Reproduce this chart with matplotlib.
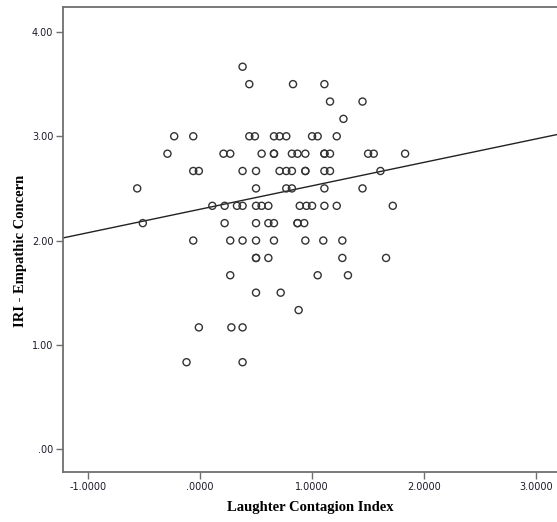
import matplotlib
matplotlib.use("Agg")
import matplotlib.pyplot as plt
import numpy as np

# Data (Laughter Contagion Index, IRI - Empathic Concern)
y_levels = [3.667, 3.5, 3.333, 3.167, 3.0, 2.833, 2.667, 2.5, 2.333, 2.167,
            2.0, 1.833, 1.667, 1.5, 1.333, 1.167, 0.833]
x_by_level = [
    [0.38],
    [0.44, 0.83, 1.11],
    [1.16, 1.45],
    [1.28],
    [-0.23, -0.06, 0.44, 0.49, 0.66, 0.71, 0.77, 1.00, 1.05, 1.22],
    [-0.29, 0.21, 0.27, 0.55, 0.66, 0.66, 0.82, 0.87, 0.94, 1.11, 1.11, 1.16, 1.50, 1.55, 1.83],
    [-0.06, -0.01, 0.38, 0.50, 0.71, 0.77, 0.82, 0.94, 0.94, 1.11, 1.16, 1.61],
    [-0.56, 0.50, 0.77, 0.82, 1.11, 1.45],
    [0.11, 0.22, 0.33, 0.38, 0.50, 0.55, 0.61, 0.89, 0.95, 1.00, 1.11, 1.22, 1.72],
    [-0.51, 0.22, 0.50, 0.61, 0.66, 0.87, 0.87, 0.93],
    [-0.06, 0.27, 0.38, 0.50, 0.66, 0.94, 1.10, 1.27],
    [0.50, 0.50, 0.61, 1.27, 1.66],
    [0.27, 1.05, 1.32],
    [0.50, 0.72],
    [0.88],
    [-0.01, 0.28, 0.38],
    [-0.12, 0.38],
]
fit_intercept = 2.30
fit_slope = 0.225

x_ticks = [-1.0, 0.0, 1.0, 2.0, 3.0]
x_tick_labels = ["-1.0000", ".0000", "1.0000", "2.0000", "3.0000"]
y_ticks = [0.0, 1.0, 2.0, 3.0, 4.0]
y_tick_labels = [".00", "1.00", "2.00", "3.00", "4.00"]

xs = np.array([x for xl in x_by_level for x in xl])
ys = np.array([y for y, xl in zip(y_levels, x_by_level) for _ in xl])

fig = plt.figure(figsize=(5.57, 5.22), dpi=100)
ax = fig.add_axes([0.1131, 0.0958, 0.8869, 0.8908])

ax.scatter(xs, ys, s=26, facecolors="none", edgecolors="#333333", linewidths=1.0, zorder=3)

xmin, xmax = -1.222, 3.185
line_x = np.array([xmin, xmax])
ax.plot(line_x, fit_intercept + fit_slope * line_x, color="#222222", lw=1.0, zorder=2)

ax.set_xlim(xmin, xmax)
ax.set_ylim(-0.22, 4.24)
ax.set_xticks(x_ticks)
ax.set_xticklabels(x_tick_labels)
ax.set_yticks(y_ticks)
ax.set_yticklabels(y_tick_labels)

for side in ["left", "bottom", "top"]:
    ax.spines[side].set_color("#707070")
    ax.spines[side].set_linewidth(1.3)
ax.spines["right"].set_visible(False)

ax.tick_params(axis="both", direction="out", length=5, width=1.0, color="#707070",
               labelsize=7, labelcolor="#1a1a2a", pad=2)

serif = {"family": "Liberation Serif", "weight": "bold", "size": 10.5}
ax.set_xlabel("Laughter Contagion Index", fontdict=serif)
ax.set_ylabel("IRI - Empathic Concern", fontdict=serif)
ax.xaxis.set_label_coords((310 - 63) / 494, -(501 - 472) / 465)
ax.yaxis.set_label_coords(-(63 - 27) / 494, (472 - 251) / 465)

fig.savefig("out.png", dpi=100)
